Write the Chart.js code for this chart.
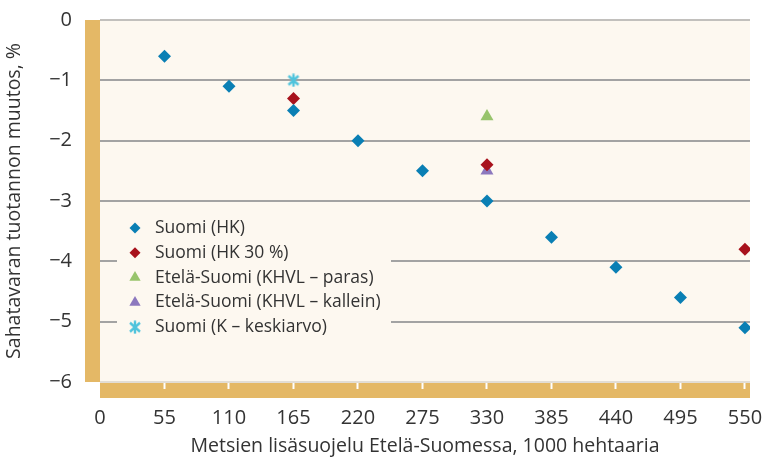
<!DOCTYPE html>
<html>
<head>
<meta charset="utf-8">
<script src="https://cdn.jsdelivr.net/npm/chart.js@4/dist/chart.umd.min.js"></script>
<style>
html,body{margin:0;padding:0;background:#fff;}
#wrap{width:762px;height:458px;}
</style>
</head>
<body>
<div id="wrap"><canvas id="c" width="762" height="458"></canvas></div>
<script>
// ---- data ----
const xTicks = [0, 55, 110, 165, 220, 275, 330, 385, 440, 495, 550];
const yTicks = [0, -1, -2, -3, -4, -5, -6];
const seriesLabels = ['Suomi (HK)', 'Suomi (HK 30 %)', 'Etelä-Suomi (KHVL – paras)', 'Etelä-Suomi (KHVL – kallein)', 'Suomi (K – keskiarvo)'];
const hkX = [55, 110, 165, 220, 275, 330, 385, 440, 495, 550];
const hkY = [-0.6, -1.1, -1.5, -2.0, -2.5, -3.0, -3.6, -4.1, -4.6, -5.1];
const hk30X = [165, 330, 550];
const hk30Y = [-1.3, -2.4, -3.8];
const parasX = [330];
const parasY = [-1.6];
const kalleinX = [330];
const kalleinY = [-2.5];
const kX = [165];
const kY = [-1.0];
const xTitle = 'Metsien lisäsuojelu Etelä-Suomessa, 1000 hehtaaria';
const yTitle = 'Sahatavaran tuotannon muutos, %';

// ---- styles ----
const FONT = '"Open Sans", Lato, sans-serif';
const TAN = '#e4b866';
const CREAM = '#fdf8f0';
const TXT = '#333333';

function asterisk(color) {
  const c = document.createElement('canvas');
  c.width = 14; c.height = 14;
  const g = c.getContext('2d');
  g.strokeStyle = color; g.lineWidth = 2.4; g.lineCap = 'butt';
  g.beginPath();
  g.moveTo(2, 2.5); g.lineTo(12, 11.5);
  g.moveTo(12, 2.5); g.lineTo(2, 11.5);
  g.moveTo(7, 0.5); g.lineTo(7, 13.5);
  g.stroke();
  return c;
}
const starImg = asterisk('#4fc3dc');

const styles = [
  {color:'#0a7fb4', pointStyle:'rectRot', radius:6.5, bw:0},
  {color:'#a8121c', pointStyle:'rectRot', radius:6.5, bw:0},
  {color:'#98c46c', pointStyle:'triangle', radius:7.5, bw:0},
  {color:'#8c78be', pointStyle:'triangle', radius:7.5, bw:0},
  {color:'#4fc3dc', pointStyle:starImg, radius:7, bw:0}
];
const xs = [hkX, hk30X, parasX, kalleinX, kX];
const ys = [hkY, hk30Y, parasY, kalleinY, kY];

const datasets = seriesLabels.map((lab, i) => ({
  label: lab,
  data: xs[i].map((x, j) => ({x: x, y: ys[i][j]})),
  pointStyle: styles[i].pointStyle,
  pointRadius: styles[i].radius,
  pointHoverRadius: styles[i].radius,
  backgroundColor: styles[i].color,
  borderColor: styles[i].color,
  borderWidth: styles[i].bw,
  showLine: false
}));

const bgPlugin = {
  id: 'bgPlugin',
  beforeDraw(chart) {
    const {ctx, chartArea: a} = chart;
    ctx.save();
    ctx.fillStyle = CREAM;
    ctx.fillRect(a.left, a.top, a.right - a.left, a.bottom - a.top);
    ctx.fillStyle = TAN;
    ctx.fillRect(a.left - 15, a.top, 15, a.bottom - a.top);
    ctx.fillRect(a.left, a.bottom, a.right - a.left, 16);
    ctx.restore();
  }
};

const legendPlugin = {
  id: 'legendBox',
  afterDraw(chart) {
    const {ctx} = chart;
    ctx.save();
    ctx.fillStyle = CREAM;
    ctx.fillRect(117, 206, 274, 138);
    const y0 = 228, step = 24.8;
    seriesLabels.forEach((lab, i) => {
      const y = y0 + i * step;
      ctx.fillStyle = styles[i].color;
      ctx.strokeStyle = styles[i].color;
      ctx.lineWidth = styles[i].bw;
      if (Chart.helpers && Chart.helpers.drawPoint) {
        Chart.helpers.drawPoint(ctx, {pointStyle: styles[i].pointStyle, radius: styles[i].radius - 1, rotation: 0, borderWidth: styles[i].bw}, 135, y);
      }
      ctx.fillStyle = TXT;
      ctx.font = '17.5px ' + FONT;
      ctx.textBaseline = 'middle';
      ctx.textAlign = 'left';
      ctx.fillText(lab, 155, y);
    });
    ctx.restore();
  }
};

new Chart(document.getElementById('c'), {
  type: 'scatter',
  data: {datasets: datasets},
  plugins: [bgPlugin, legendPlugin],
  options: {
    responsive: false,
    animation: false,
    devicePixelRatio: 1,
    layout: {padding: {left: 0, right: 12, top: 20, bottom: 0}},
    plugins: {legend: {display: false}, tooltip: {enabled: false}},
    scales: {
      x: {
        type: 'linear',
        min: 0,
        max: 554.3,
        afterBuildTicks(s) { s.ticks = xTicks.map(v => ({value: v})); },
        afterFit(s) { s.height = 76; s.paddingLeft = 0; s.paddingRight = 0; },
        border: {display: false},
        grid: {
          drawOnChartArea: false,
          drawTicks: true,
          tickLength: 7,
          tickWidth: 2,
          color: ctx => (ctx.tick && ctx.tick.value === 0) ? 'rgba(0,0,0,0)' : '#ffffff'
        },
        ticks: {
          color: TXT,
          padding: 17,
          font: {family: FONT, size: 20},
          maxRotation: 0,
          autoSkip: false
        },
        title: {
          display: true,
          text: xTitle,
          color: TXT,
          font: {family: FONT, size: 19.5},
          padding: {top: 0, bottom: 0}
        }
      },
      y: {
        type: 'linear',
        min: -6,
        max: 0,
        afterBuildTicks(s) { s.ticks = yTicks.map(v => ({value: v})); },
        afterFit(s) { s.width = 100; s.paddingTop = 0; s.paddingBottom = 0; },
        border: {display: false},
        grid: {
          drawTicks: false,
          lineWidth: 2,
          color: ctx => {
            const v = ctx.tick ? ctx.tick.value : null;
            if (v === 0) return '#c2c0bd';
            if (v === -6) return '#e2ddd5';
            return '#a3a3a3';
          }
        },
        ticks: {
          color: TXT,
          padding: 28,
          font: {family: FONT, size: 20},
          callback: v => (v < 0 ? '\u2212' + Math.abs(v) : String(v))
        },
        title: {
          display: true,
          text: yTitle,
          color: TXT,
          font: {family: FONT, size: 19.5},
          padding: {top: 3, bottom: 0}
        }
      }
    }
  }
});
</script>
</body>
</html>
